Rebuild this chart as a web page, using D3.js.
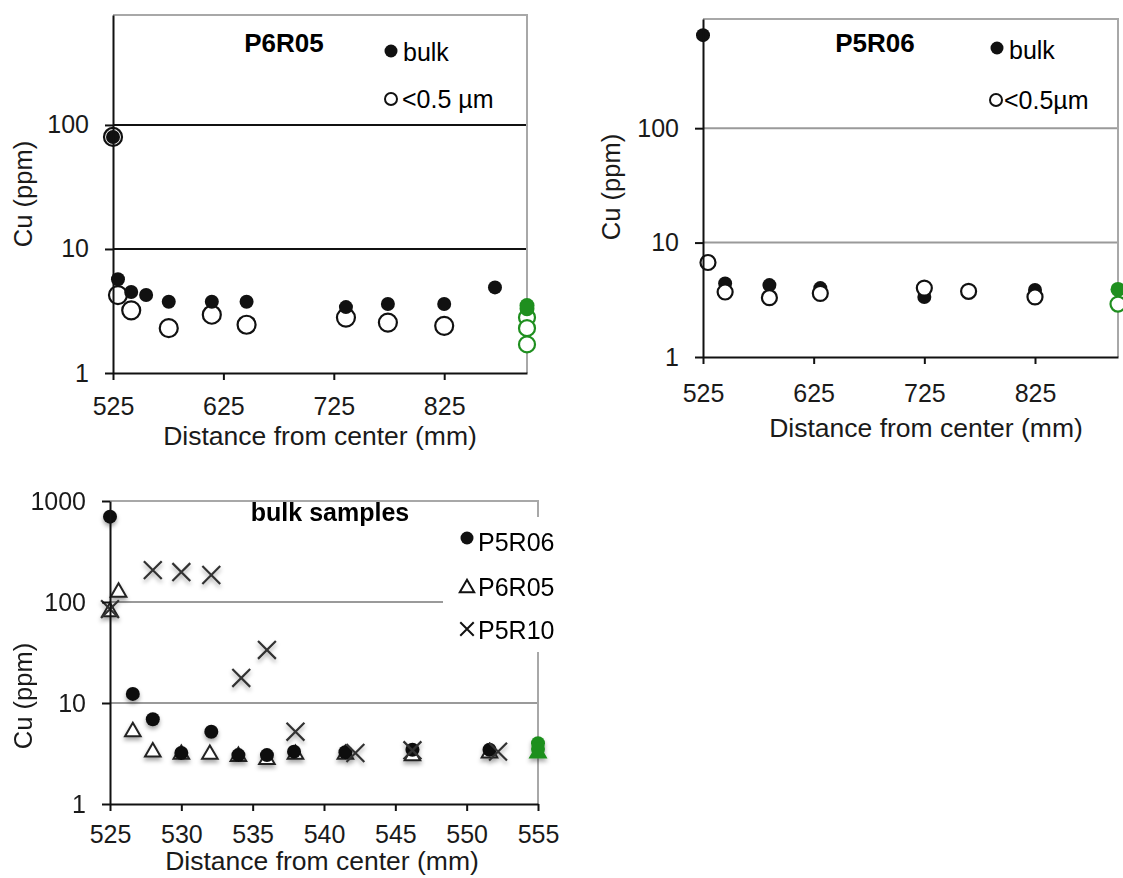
<!DOCTYPE html>
<html>
<head>
<meta charset="utf-8">
<script src="https://cdn.jsdelivr.net/npm/d3@7"></script>
<style>
  body { margin: 0; background: #fff; }
  svg { font-family: 'Liberation Sans', Arial, sans-serif; }
</style>
</head>
<body>
<svg></svg>
<script>
// P6R05 profile (top left)
const p6r05Dist = [525, 529.5, 541.5, 555, 575.5, 614.5, 646, 736, 774, 825, 871];
const p6r05Bulk = [80, 5.7, 4.5, 4.25, 3.75, 3.75, 3.75, 3.4, 3.6, 3.6, 4.9];
const p6r05Fine = [80, 4.25, 3.2, null, 2.3, 2.95, 2.45, 2.8, 2.55, 2.4, null];
const p6r05RefBulk = [3.5, 3.3];
const p6r05RefFine = [2.8, 2.3, 1.7];

// P5R06 profile (top right)
const p5r06Dist = [525, 529.5, 545, 585, 631, 725, 765, 825];
const p5r06Bulk = [650, null, 4.4, 4.25, 4.0, 3.35, 3.8, 3.85];
const p5r06Fine = [null, 6.7, 3.7, 3.3, 3.6, 4.0, 3.75, 3.35];
const p5r06RefBulk = [3.9];
const p5r06RefFine = [2.9];

// bulk samples, first 30 mm (bottom)
const bulkP5R06Dist = [525, 526.6, 528, 530, 532.1, 534, 536, 537.9, 541.5, 546.2, 551.6];
const bulkP5R06 = [700, 12.3, 6.9, 3.2, 5.2, 3.05, 3.05, 3.3, 3.25, 3.45, 3.45];
const bulkP6R05Dist = [525, 525.6, 526.6, 528, 530, 532, 534, 536, 538, 541.5, 546.2, 551.6];
const bulkP6R05 = [80, 125, 5.2, 3.27, 3.1, 3.1, 2.95, 2.75, 3.1, 3.1, 3.0, 3.2];
const bulkP5R10Dist = [525, 528, 530, 532.1, 534.2, 536, 538, 542.2, 546.2, 552.2];
const bulkP5R10 = [85, 207, 198, 185, 17.7, 33.5, 5.2, 3.2, 3.4, 3.3];
const bulkRefCircle = [4.0, 3.5];
const bulkRefTriangle = [3.2];

const refDist = 900;
const refDistBulk = 555;
const profileTicks = [525, 625, 725, 825];
const bulkTicks = [525, 530, 535, 540, 545, 550, 555];

const green = '#1f8f1f';
const ink = '#111';
const gridGray = '#9a9a9a';

const pairs = (xs, ys) => xs.map((d, i) => [d, ys[i]]).filter(p => p[1] != null);

document.addEventListener('DOMContentLoaded', function() {
  const svg = d3.select('svg').attr('width', 1123).attr('height', 878);

  const defs = svg.append('defs');
  defs.append('filter').attr('id', 'shadow')
    .attr('x', '-60%').attr('y', '-60%').attr('width', '220%').attr('height', '220%')
    .append('feDropShadow')
    .attr('dx', 0).attr('dy', 3).attr('stdDeviation', 2)
    .attr('flood-color', '#000').attr('flood-opacity', 0.35);

  function frame(g, x, y, grid, gridColor) {
    const [x0, x1] = x.range();
    const [yb, yt] = y.range();
    g.append('g').selectAll('line').data(grid).enter().append('line')
      .attr('x1', x0).attr('x2', x1)
      .attr('y1', d => y(d)).attr('y2', d => y(d))
      .attr('stroke', gridColor).attr('stroke-width', 2);
    g.append('path')
      .attr('d', `M${x0},${yt}H${x1}V${yb}`)
      .attr('fill', 'none').attr('stroke', '#a8a8a8').attr('stroke-width', 2);
  }

  function axes(g, x, y, xTicks, xPad) {
    const xa = g.append('g').attr('transform', `translate(0,${y.range()[0]})`)
      .call(d3.axisBottom(x).tickValues(xTicks).tickSize(7).tickSizeOuter(0)
        .tickPadding(xPad).tickFormat(d3.format('d')));
    const ya = g.append('g').attr('transform', `translate(${x.range()[0]},0)`)
      .call(d3.axisLeft(y).tickValues([1, 10, 100, 1000].filter(v => v <= y.domain()[1]))
        .tickSize(8).tickSizeOuter(0).tickPadding(16).tickFormat(d3.format('d')));
    [xa, ya].forEach(a => {
      a.attr('font-family', null).attr('font-size', 25);
      a.select('.domain').attr('stroke', ink).attr('stroke-width', 2);
      a.selectAll('.tick line').attr('stroke', ink).attr('stroke-width', 2);
      a.selectAll('.tick text').attr('fill', '#1a1a1a');
    });
  }

  function labels(g, xc, xb, yc, yb) {
    g.append('text').attr('x', xc).attr('y', xb)
      .attr('text-anchor', 'middle').attr('font-size', 26.5).attr('fill', '#1a1a1a')
      .text('Distance from center (mm)');
    g.append('text')
      .attr('transform', `translate(${yb},${yc}) rotate(-90)`)
      .attr('text-anchor', 'middle').attr('font-size', 25.5).attr('fill', '#1a1a1a')
      .text('Cu (ppm)');
  }

  function dots(g, data, x, y, r, filled, color) {
    g.append('g').selectAll('circle').data(data).enter().append('circle')
      .attr('cx', d => x(d[0])).attr('cy', d => y(d[1]))
      .attr('r', r)
      .attr('fill', filled ? color : '#fff')
      .attr('stroke', color)
      .attr('stroke-width', filled ? 0 : 2.2);
  }

  // ---------- panel 1: P6R05 ----------
  const x1 = d3.scaleLinear().domain([525, 900]).range([113, 527]);
  const y1 = d3.scaleLog().domain([1, 770]).range([373, 15]);
  const g1 = svg.append('g');
  frame(g1, x1, y1, [10, 100], ink);
  dots(g1, pairs(p6r05Dist, p6r05Fine), x1, y1, 9, false, ink);
  dots(g1, pairs(p6r05Dist, p6r05Bulk), x1, y1, 7, true, ink);
  dots(g1, p6r05RefFine.map(v => [refDist, v]), x1, y1, 8, false, green);
  dots(g1, p6r05RefBulk.map(v => [refDist, v]), x1, y1, 7.5, true, green);
  axes(g1, x1, y1, profileTicks, 17);
  labels(g1, 320, 445, 194, 32);
  g1.append('text').attr('x', 284).attr('y', 52).attr('text-anchor', 'middle')
    .attr('font-size', 26).attr('font-weight', 'bold').text('P6R05');
  g1.append('circle').attr('cx', 391).attr('cy', 51).attr('r', 6.5).attr('fill', ink);
  g1.append('text').attr('x', 403).attr('y', 61).attr('font-size', 25).text('bulk');
  g1.append('circle').attr('cx', 391).attr('cy', 99).attr('r', 6).attr('fill', '#fff')
    .attr('stroke', ink).attr('stroke-width', 2);
  g1.append('text').attr('x', 402).attr('y', 108).attr('font-size', 25).text('<0.5 µm');

  // ---------- panel 2: P5R06 ----------
  const x2 = d3.scaleLinear().domain([525, 900]).range([703, 1118]);
  const y2 = d3.scaleLog().domain([1, 900]).range([357, 19]);
  const g2 = svg.append('g');
  frame(g2, x2, y2, [10, 100], gridGray);
  dots(g2, pairs(p5r06Dist, p5r06Bulk), x2, y2, 7, true, ink);
  dots(g2, pairs(p5r06Dist, p5r06Fine), x2, y2, 7.5, false, ink);
  dots(g2, p5r06RefBulk.map(v => [refDist, v]), x2, y2, 7.5, true, green);
  dots(g2, p5r06RefFine.map(v => [refDist, v]), x2, y2, 7.5, false, green);
  axes(g2, x2, y2, profileTicks, 20);
  labels(g2, 926, 437, 187, 620);
  g2.append('text').attr('x', 875).attr('y', 52).attr('text-anchor', 'middle')
    .attr('font-size', 26).attr('font-weight', 'bold').text('P5R06');
  g2.append('circle').attr('cx', 997).attr('cy', 48).attr('r', 6.5).attr('fill', ink);
  g2.append('text').attr('x', 1009).attr('y', 59).attr('font-size', 25).text('bulk');
  g2.append('circle').attr('cx', 996).attr('cy', 100).attr('r', 6).attr('fill', '#fff')
    .attr('stroke', ink).attr('stroke-width', 2);
  g2.append('text').attr('x', 1004).attr('y', 109).attr('font-size', 25).text('<0.5µm');

  // ---------- panel 3: bulk samples ----------
  const x3 = d3.scaleLinear().domain([525, 555]).range([110, 538]);
  const y3 = d3.scaleLog().domain([1, 1000]).range([804, 501]);
  const g3 = svg.append('g');
  frame(g3, x3, y3, [10, 100], gridGray);

  // legend box hides the grid behind it
  g3.append('rect').attr('x', 443).attr('y', 517).attr('width', 130).attr('height', 135).attr('fill', '#fff');

  const tri = d3.symbol().type(d3.symbolTriangle).size(105);
  const cross = d3.symbol().type(d3.symbolX).size(210);
  const marks = g3.append('g').attr('filter', 'url(#shadow)');

  marks.append('g').selectAll('path').data(pairs(bulkP6R05Dist, bulkP6R05)).enter().append('path')
    .attr('d', tri).attr('transform', d => `translate(${x3(d[0])},${y3(d[1])})`)
    .attr('fill', '#fff').attr('stroke', '#222').attr('stroke-width', 2);
  dots(marks, pairs(bulkP5R06Dist, bulkP5R06), x3, y3, 7, true, ink);
  marks.append('g').selectAll('path').data(pairs(bulkP5R10Dist, bulkP5R10)).enter().append('path')
    .attr('d', cross).attr('transform', d => `translate(${x3(d[0])},${y3(d[1])})`)
    .attr('fill', 'none').attr('stroke', '#333').attr('stroke-width', 2.2);
  marks.append('g').selectAll('path').data(bulkRefTriangle.map(v => [refDistBulk, v])).enter().append('path')
    .attr('d', tri).attr('transform', d => `translate(${x3(d[0])},${y3(d[1])})`)
    .attr('fill', green).attr('stroke', green).attr('stroke-width', 2);
  dots(marks, bulkRefCircle.map(v => [refDistBulk, v]), x3, y3, 7, true, green);

  axes(g3, x3, y3, bulkTicks, 14);
  labels(g3, 322, 870, 696, 32);
  g3.append('text').attr('x', 330).attr('y', 521).attr('text-anchor', 'middle')
    .attr('font-size', 25).attr('font-weight', 'bold').text('bulk samples');

  g3.append('circle').attr('cx', 467).attr('cy', 538).attr('r', 6.5).attr('fill', ink);
  g3.append('text').attr('x', 478).attr('y', 551).attr('font-size', 25).text('P5R06');
  g3.append('path').attr('d', d3.symbol().type(d3.symbolTriangle).size(90))
    .attr('transform', 'translate(467,588)')
    .attr('fill', 'none').attr('stroke', ink).attr('stroke-width', 2);
  g3.append('text').attr('x', 478).attr('y', 596).attr('font-size', 25).text('P6R05');
  g3.append('path').attr('d', d3.symbol().type(d3.symbolX).size(120))
    .attr('transform', 'translate(467,629)')
    .attr('fill', 'none').attr('stroke', ink).attr('stroke-width', 2);
  g3.append('text').attr('x', 478).attr('y', 639).attr('font-size', 25).text('P5R10');
});
</script>
</body>
</html>
